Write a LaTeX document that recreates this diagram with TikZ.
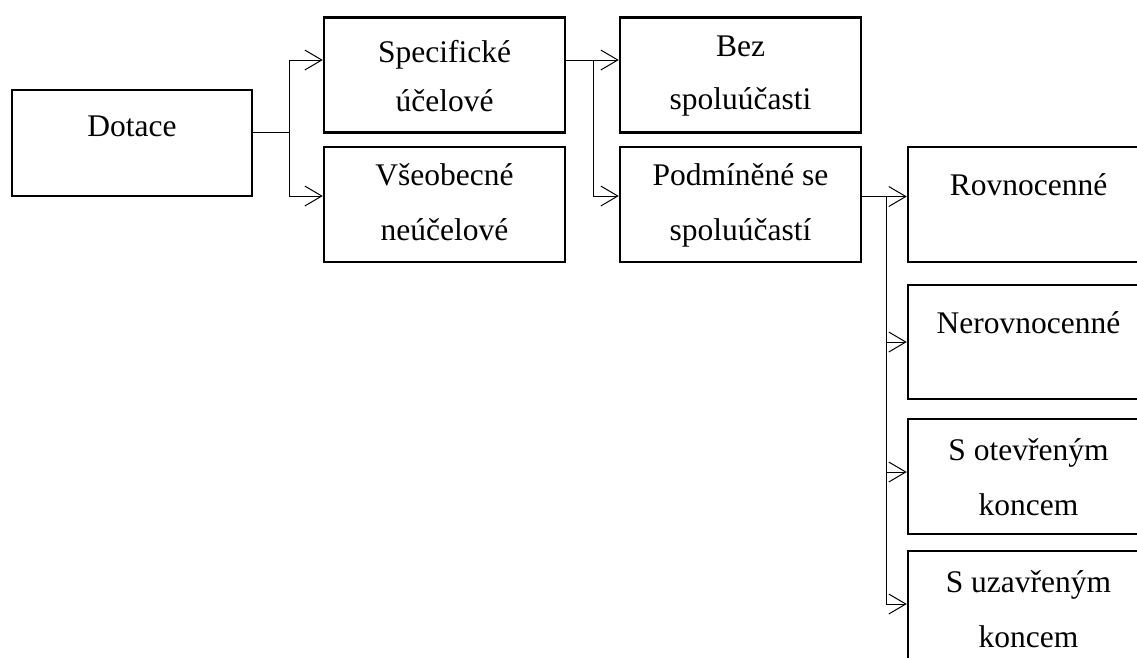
\documentclass[tikz,border=0pt]{standalone}
\usepackage{fontspec}
\setmainfont{Liberation Serif}
\usetikzlibrary{positioning, arrows.meta, calc}
\tikzset{
    x=1pt, y=1pt,
    box/.style={draw, line width=2.5pt, minimum width=241pt, inner sep=0pt, align=center,
        font=\fontsize{31.5}{55}\selectfont},
    box two/.style={box, text height=93pt, text depth=22pt},
    box one/.style={box, text height=48pt, text depth=67pt},
    conn/.style={line width=1pt},
    conn_arrow/.style={line width=1pt, -{Straight Barb[length=17pt, width=20pt]}}
}

\begin{document}
\begin{tikzpicture}
    \clip (0,0) rectangle (1137,-657);
    \useasboundingbox (0,0) rectangle (1137,-657);

    % --- Nodes for first level ---
    \node (dotace) [box, minimum width=240pt, text height=46pt, text depth=60pt] at (132,-143) {Dotace};

    % --- Nodes for second level ---
    \node (spec) [box two, text height=94pt, text depth=21pt, font=\fontsize{31.5}{49}\selectfont] at (444.5,-75) {Specifické\\účelové};
    \node (vseob) [box two] at (444.5,-204.5) {Všeobecné\\neúčelové};

    % --- Nodes for third level ---
    \node (bez) [box two, text height=92pt, text depth=23pt, font=\fontsize{31.5}{53}\selectfont] at (740.5,-75) {Bez\\spoluúčasti};
    \node (podm) [box two] at (740.5,-204.5) {Podmíněné se\\spoluúčastí};

    % --- Nodes for fourth level ---
    \node (rovno) [box one] at (1028.5,-204.5) {Rovnocenné};
    \node (nerovno) [box one, text depth=66pt] at (1028.5,-342) {Nerovnocenné};
    \node (otevr) [box two, text height=96pt, text depth=19pt] at (1028.5,-476.5) {S otevřeným\\koncem};
    \node (uzavr) [box two, text height=96pt, text depth=19pt] at (1028.5,-608.5) {S uzavřeným\\koncem};

    % --- Connections ---
    \draw[conn] ([yshift=11pt]dotace.east) -- ++(36,0) coordinate (j1);
    \draw[conn_arrow] (j1) |- ([yshift=15pt]spec.west);
    \draw[conn_arrow] (j1) |- ([yshift=8.5pt]vseob.west);

    \draw[conn] ([yshift=15pt]spec.east) -- ++(27,0) coordinate (j2);
    \draw[conn_arrow] (j2) -- ([yshift=15pt]bez.west);
    \draw[conn_arrow] (j2) |- ([yshift=8.5pt]podm.west);

    \draw[conn] ([yshift=8pt]podm.east) -- ++(24,0) coordinate (j3);
    \draw[conn_arrow] (j3) -- ([yshift=8pt]rovno.west);
    \draw[conn_arrow] (j3) |- (nerovno.west);
    \draw[conn_arrow] (j3) |- ([yshift=4.5pt]otevr.west);
    \draw[conn_arrow] (j3) |- ([yshift=4.5pt]uzavr.west);
\end{tikzpicture}
\end{document}
